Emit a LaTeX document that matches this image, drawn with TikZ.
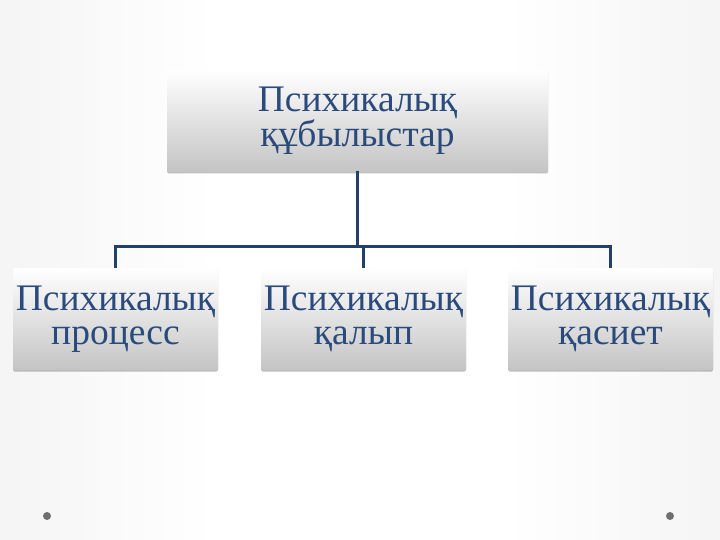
\documentclass[tikz,border=0pt]{standalone}
\usepackage{fontspec}
\setmainfont{Liberation Serif}
\usetikzlibrary{shadows}
\definecolor{txtblue}{HTML}{2A4A7C}
\definecolor{lineblue}{HTML}{22406C}
\definecolor{dotgray}{HTML}{707070}
\definecolor{boxbottom}{HTML}{C4C4C4}
\pgfdeclarehorizontalshading{bgshade}{100bp}{%
  color(0bp)=(black!13); color(18bp)=(black!6); color(40bp)=(white);
  color(60bp)=(white); color(82bp)=(black!6); color(100bp)=(black!13)}
\tikzset{
  box/.style={rectangle, rounded corners=1.5pt, top color=white, bottom color=boxbottom,
    minimum height=102pt, inner sep=0pt, align=center, text=txtblue,
    font=\fontsize{37.5}{34}\selectfont,
    drop shadow={shadow xshift=0pt, shadow yshift=-1.5pt, opacity=0.25, fill=black}},
  conn/.style={draw=lineblue, line width=3pt, line cap=rect},
  dot/.style={circle, fill=dotgray, inner sep=0pt, minimum size=8pt}
}
\begin{document}
\begin{tikzpicture}[x=1pt, y=-1pt]
\useasboundingbox (0,0) rectangle (720,540);
\shade[shading=bgshade] (0,0) rectangle (720,540);
\node[box, minimum width=381pt, text width=381pt] (top) at (357.5,121) {Психикалық\\құбылыстар};
\node[box, minimum width=205pt, text width=205pt] (p1) at (115.5,319) {Психикалық\\процесс};
\node[box, minimum width=205pt, text width=205pt] (p2) at (363.5,319) {Психикалық\\қалып};
\node[box, minimum width=205pt, text width=205pt] (p3) at (610.5,319) {Психикалық\\қасиет};
\coordinate (bus) at (0,246);
\draw[conn] (top.south) -- (top.south |- bus);
\draw[conn, line cap=butt] (p1.north) -- (p1.north |- bus) -- (p3.north |- bus) -- (p3.north);
\draw[conn, line cap=butt] (p2.north) -- (p2.north |- bus);
\node[dot] (d1) at (47,516) {};
\node[dot] (d2) at (670,516) {};
\end{tikzpicture}
\end{document}
